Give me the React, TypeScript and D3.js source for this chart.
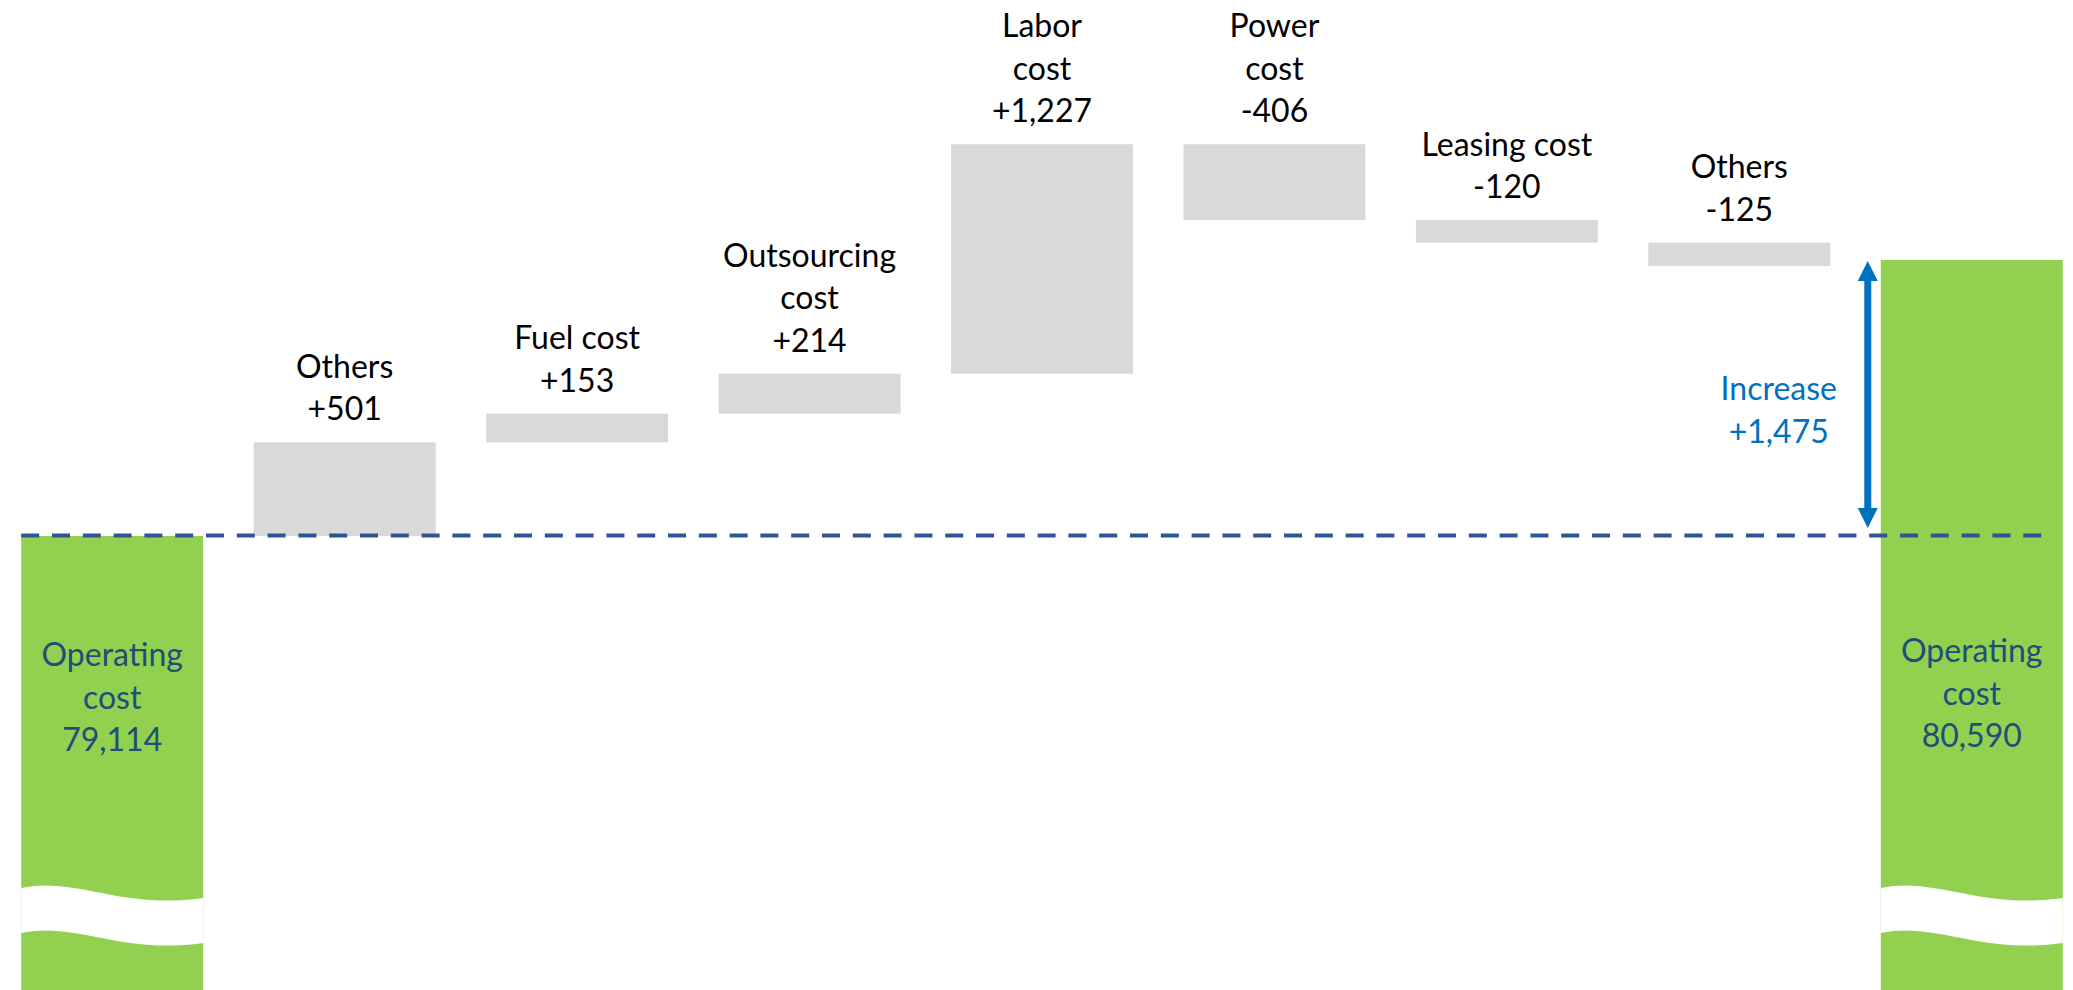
import React from "react";
import * as d3 from "d3";

// Waterfall: operating cost bridge from one period to the next
const startName = ["Operating", "cost"];
const startValue = 79114;
const endName = ["Operating", "cost"];
const endValue = 80590;

const stepNames: string[][] = [
  ["Others"],
  ["Fuel cost"],
  ["Outsourcing", "cost"],
  ["Labor", "cost"],
  ["Power", "cost"],
  ["Leasing cost"],
  ["Others"],
];
const stepValues = [501, 153, 214, 1227, -406, -120, -125];

const increaseName = "Increase";
const increaseValue = 1475;

const W = 2073;
const H = 990;
const FONT = "Lato, 'Open Sans', 'DejaVu Sans', sans-serif";
const FS = 32;
const LINE = 42.5;

const GREEN = "#92D050";
const GREY = "#D9D9D9";
const NAVY = "#1F4E79";
const DASH = "#2F5597";
const BLUE = "#0070C0";

const locale = d3.formatLocale({
  decimal: ".",
  thousands: ",",
  grouping: [3],
  currency: ["$", ""],
  minus: "-",
});
const fmtSigned = locale.format("+,");
const fmtPlain = locale.format(",");

export default function App() {
  const keys = ["start", ...stepValues.map((_, i) => `s${i}`), "end"];
  const x = d3
    .scaleBand<string>()
    .domain(keys)
    .range([-4, 2088])
    .paddingInner(0.217)
    .paddingOuter(0.1085);
  const bw = x.bandwidth();

  const y = d3.scaleLinear().domain([startValue, endValue]).range([536, 260]);

  // floating steps
  let running = startValue;
  const steps = stepValues.map((v, i) => {
    const from = running;
    const to = running + v;
    running = to;
    const top = Math.min(y(from), y(to));
    const h = Math.abs(y(from) - y(to));
    return { key: `s${i}`, v, top, h, names: stepNames[i] };
  });

  // torn-edge band across the pillar bars
  const breakPath = (x0: number) => {
    const w = bw;
    const dy = 45;
    return (
      `M${x0},888 C${x0 + 0.3 * w},876 ${x0 + 0.55 * w},910 ${x0 + w},898` +
      ` L${x0 + w},${898 + dy} C${x0 + 0.55 * w},${910 + dy} ${x0 + 0.3 * w},${876 + dy} ${x0},${888 + dy} Z`
    );
  };

  const pillar = (key: string, value: number, name: string[], firstBaseline: number) => {
    const x0 = x(key)!;
    const cx = x0 + bw / 2;
    const lines = [...name, fmtPlain(value)];
    return (
      <g key={key}>
        <rect x={x0} y={y(value)} width={bw} height={H - y(value)} fill={GREEN} />
        <path d={breakPath(x0)} fill="#ffffff" />
        <text textAnchor="middle" fontFamily={FONT} fontSize={FS} fill={NAVY}>
          {lines.map((t, j) => (
            <tspan key={j} x={cx} y={firstBaseline + j * LINE}>
              {t}
            </tspan>
          ))}
        </text>
      </g>
    );
  };

  const baseY = y(startValue);
  const endY = y(endValue);
  const arrowX = x("end")! - 13;
  const head = 20;
  const halfHead = 10;
  const lineStart = x("start")!;
  const lineEnd = x("end")! + bw - 15;

  return (
    <svg
      width={W}
      height={H}
      style={{ position: "absolute", left: 0, top: 0, display: "block", background: "#fff" }}
    >
      {pillar("start", startValue, startName, 666)}
      {pillar("end", endValue, endName, 662)}

      {steps.map((s) => {
        const x0 = x(s.key)!;
        const cx = x0 + bw / 2;
        const lines = [...s.names, fmtSigned(s.v)];
        const lastBase = s.top - 22;
        return (
          <g key={s.key}>
            <rect x={x0} y={s.top} width={bw} height={s.h} fill={GREY} />
            <text textAnchor="middle" fontFamily={FONT} fontSize={FS} fill="#000">
              {lines.map((t, j) => (
                <tspan key={j} x={cx} y={lastBase - (lines.length - 1 - j) * LINE}>
                  {t}
                </tspan>
              ))}
            </text>
          </g>
        );
      })}

      {/* reference level of the starting total */}
      <line
        x1={lineStart}
        x2={lineEnd}
        y1={baseY - 0.5}
        y2={baseY - 0.5}
        stroke={DASH}
        strokeWidth={4}
        strokeDasharray="18 12.8"
      />

      {/* double-headed difference arrow */}
      <g fill={BLUE}>
        <rect x={arrowX - 3.5} y={endY + head} width={7} height={baseY - 6 - endY - 2 * head} />
        <path d={`M${arrowX},${endY + 1} L${arrowX + halfHead},${endY + 1 + head} L${arrowX - halfHead},${endY + 1 + head} Z`} />
        <path d={`M${arrowX},${baseY - 8} L${arrowX + halfHead},${baseY - 8 - head} L${arrowX - halfHead},${baseY - 8 - head} Z`} />
      </g>
      <text textAnchor="middle" fontFamily={FONT} fontSize={FS} fill={BLUE}>
        <tspan x={arrowX - 89} y={(endY + baseY) / 2 + 2}>
          {increaseName}
        </tspan>
        <tspan x={arrowX - 89} y={(endY + baseY) / 2 + 2 + LINE}>
          {fmtSigned(increaseValue)}
        </tspan>
      </text>
    </svg>
  );
}
